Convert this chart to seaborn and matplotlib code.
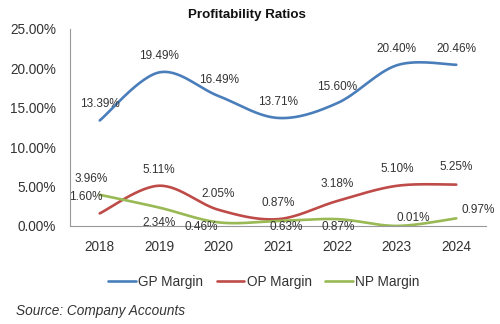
import numpy as np
import pandas as pd
import matplotlib
matplotlib.use("Agg")
import matplotlib.pyplot as plt
import seaborn as sns

years = ["2018", "2019", "2020", "2021", "2022", "2023", "2024"]
gp_margin = [13.39, 19.49, 16.49, 13.71, 15.60, 20.40, 20.46]
op_margin = [1.60, 5.11, 2.05, 0.87, 3.18, 5.10, 5.25]
np_margin = [3.96, 2.34, 0.46, 0.63, 0.87, 0.01, 0.97]
series_names = ["GP Margin", "OP Margin", "NP Margin"]
colors = ["#4a7ebb", "#be4b48", "#98b954"]

# label offsets in pixels (dx, dy) relative to each point
offsets = {
    "GP Margin": [(0, 16)] * 7,
    "OP Margin": [(-14, 16), (0, 16), (0, 16), (0, 16), (0, 17), (0, 17), (0, 18)],
    "NP Margin": [(-9, 16), (0, -15), (-17, -5), (8, -6), (1, -8), (16, 8), (22, 8)],
}


def smooth(xs, ys, n=30):
    """Bezier smoothing through every point (Catmull-Rom style control points)."""
    pts = np.column_stack([xs, ys]).astype(float)
    ext = np.vstack([pts[0], pts, pts[-1]])
    out = []
    for i in range(len(pts) - 1):
        p0, p1, p2, p3 = ext[i], ext[i + 1], ext[i + 2], ext[i + 3]
        c1 = p1 + (p2 - p0) / 6.0
        c2 = p2 - (p3 - p1) / 6.0
        t = np.linspace(0, 1, n, endpoint=(i == len(pts) - 2))[:, None]
        seg = ((1 - t) ** 3) * p1 + 3 * ((1 - t) ** 2) * t * c1 + 3 * (1 - t) * t ** 2 * c2 + t ** 3 * p2
        out.append(seg)
    return np.vstack(out)


sns.set_style("white")
plt.rcParams["font.family"] = ["Liberation Sans", "DejaVu Sans"]

fig = plt.figure(figsize=(5.0, 3.24), dpi=100)
ax = fig.add_axes([0.14, 0.3025, 0.832, 0.608])

xs = np.arange(len(years))
frames = []
for name, vals in zip(series_names, [gp_margin, op_margin, np_margin]):
    curve = smooth(xs, vals)
    frames.append(pd.DataFrame({"x": curve[:, 0], "y": curve[:, 1], "series": name}))
df = pd.concat(frames, ignore_index=True)

sns.lineplot(data=df, x="x", y="y", hue="series", hue_order=series_names,
             palette=colors, sort=False, estimator=None, units="series",
             linewidth=1.9, ax=ax, legend=False)

for name, vals in zip(series_names, [gp_margin, op_margin, np_margin]):
    for i, v in enumerate(vals):
        dx, dy = offsets[name][i]
        ax.annotate(f"{v:.2f}%", (xs[i], v), xytext=(dx, dy), textcoords="offset pixels",
                    ha="center", va="center", fontsize=8.5, color="#333333")

tick_fs = 9.8
ax.set_xlim(-0.5, len(years) - 0.5)
ax.set_ylim(0, 25)
ax.set_yticks(np.arange(0, 25.01, 5))
ax.set_yticklabels([f"{v:.2f}%" for v in np.arange(0, 25.01, 5)], fontsize=tick_fs, color="#333333")
ax.set_xticks(xs)
ax.set_xticklabels(years, fontsize=tick_fs, color="#333333")
ax.set_xticks(np.arange(-0.5, len(years)), minor=True)
ax.tick_params(axis="x", which="major", length=0, pad=10)
ax.tick_params(axis="x", which="minor", length=4, direction="out", color="#999999", width=0.8)
ax.tick_params(axis="y", length=4, direction="out", color="#999999", width=0.8, pad=6)
ax.set_xlabel("")
ax.set_ylabel("")
for side in ["top", "right"]:
    ax.spines[side].set_visible(False)
for side in ["left", "bottom"]:
    ax.spines[side].set_color("#999999")
    ax.spines[side].set_linewidth(0.8)

fig.text(0.494, 0.953, "Profitability Ratios", ha="center", va="center",
         fontsize=9.6, fontweight="bold", color="#111111")

handles = [plt.Line2D([], [], color=c, linewidth=1.9) for c in colors]
fig.legend(handles, series_names, loc="center", bbox_to_anchor=(0.528, 0.13), ncol=3,
           frameon=False, fontsize=tick_fs, handlelength=2.0, handletextpad=0.2,
           columnspacing=1.0, labelcolor="#333333")

fig.text(0.032, 0.04, "Source: Company Accounts", ha="left", va="center",
         fontsize=tick_fs, style="italic", color="#333333")

fig.savefig("out.png", dpi=100, facecolor="white")
